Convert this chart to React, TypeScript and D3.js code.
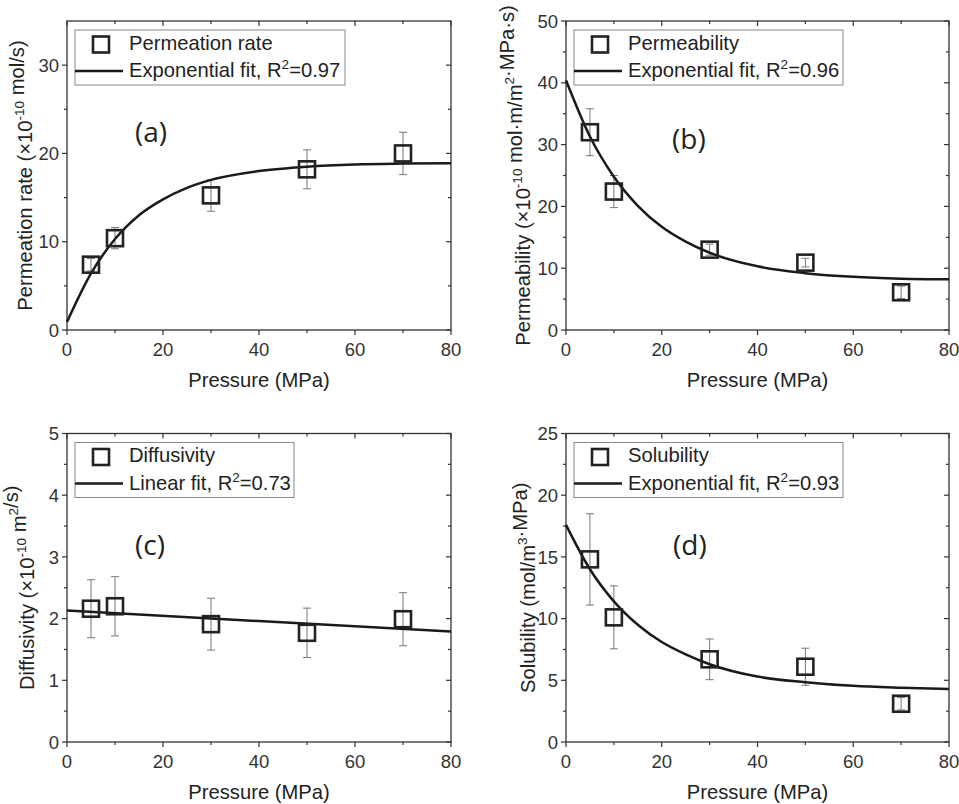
import React from "react";
import * as d3 from "d3";

const pressure = [5, 10, 30, 50, 70];

const permeationRate = [7.4, 10.4, 15.25, 18.2, 20.0];
const permeationRateErr = [0.7, 1.2, 1.8, 2.2, 2.4];

const permeability = [32.0, 22.4, 13.0, 10.9, 6.1];
const permeabilityErr = [3.8, 2.6, 0.9, 0.7, 1.0];

const diffusivity = [2.16, 2.2, 1.91, 1.77, 1.99];
const diffusivityErr = [0.47, 0.48, 0.42, 0.4, 0.43];

const solubility = [14.8, 10.1, 6.7, 6.1, 3.1];
const solubilityErr = [3.7, 2.55, 1.65, 1.5, 0.5];

// fit curves
const fitPressure = [0, 5, 10, 15, 20, 25, 30, 40, 50, 60, 70, 80];
const permeationRateFit = [0.9, 6.4, 10.3, 13.0, 14.8, 16.1, 17.0, 18.0, 18.5, 18.75, 18.85, 18.9];
const permeabilityFit = [40.4, 31.3, 24.8, 20.1, 16.7, 14.3, 12.5, 10.3, 9.2, 8.6, 8.3, 8.2];
const solubilityFit = [17.6, 14.0, 11.4, 9.5, 8.1, 7.1, 6.3, 5.3, 4.85, 4.55, 4.4, 4.3];
const linearFitPressure = [0, 80];
const diffusivityFit = [2.13, 1.79];

const xTicks = [0, 20, 40, 60, 80];

const FONT = "Arial, 'Liberation Sans', sans-serif";
const INK = "#222";
const TICK_FS = 18.5;
const LABEL_FS = 20.2;

type Panel = {
  letter: string;
  left: number;
  right: number;
  top: number;
  bottom: number;
  yMax: number;
  yStep: number;
  y: number[];
  err: number[];
  fitX: number[];
  fitY: number[];
  seriesName: string;
  fitName: string;
  r2: string;
  legendW: number;
  titleX: number;
  title: React.ReactNode;
  letterDx: number;
  letterDy: number;
};

const sup = (s: string, key: string) => [
  <tspan key={key + "a"} dy={-8} fontSize={13.5}>
    {s}
  </tspan>,
  <tspan key={key + "b"} dy={8}></tspan>,
];

const panels: Panel[] = [
  {
    letter: "(a)",
    left: 67, right: 451, top: 21, bottom: 330,
    yMax: 35, yStep: 10,
    y: permeationRate, err: permeationRateErr,
    fitX: fitPressure, fitY: permeationRateFit,
    seriesName: "Permeation rate", fitName: "Exponential fit, R", r2: "=0.97",
    legendW: 270, titleX: 32,
    title: (
      <>
        Permeation rate (×10{sup("-10", "s1")} mol/s)
      </>
    ),
    letterDx: 68, letterDy: 121,
  },
  {
    letter: "(b)",
    left: 566, right: 949, top: 21, bottom: 330,
    yMax: 50, yStep: 10,
    y: permeability, err: permeabilityErr,
    fitX: fitPressure, fitY: permeabilityFit,
    seriesName: "Permeability", fitName: "Exponential fit, R", r2: "=0.96",
    legendW: 269, titleX: 530,
    title: (
      <>
        Permeability (×10{sup("-10", "s1")} mol·m/m{sup("2", "s2")}·MPa·s)
      </>
    ),
    letterDx: 106, letterDy: 128,
  },
  {
    letter: "(c)",
    left: 67, right: 451, top: 433.5, bottom: 742,
    yMax: 5, yStep: 1,
    y: diffusivity, err: diffusivityErr,
    fitX: linearFitPressure, fitY: diffusivityFit,
    seriesName: "Diffusivity", fitName: "Linear fit, R", r2: "=0.73",
    legendW: 219, titleX: 34,
    title: (
      <>
        Diffusivity (×10{sup("-10", "s1")} m{sup("2", "s2")}/s)
      </>
    ),
    letterDx: 68, letterDy: 121.5,
  },
  {
    letter: "(d)",
    left: 566, right: 949, top: 433.5, bottom: 742,
    yMax: 25, yStep: 5,
    y: solubility, err: solubilityErr,
    fitX: fitPressure, fitY: solubilityFit,
    seriesName: "Solubility", fitName: "Exponential fit, R", r2: "=0.93",
    legendW: 269, titleX: 535,
    title: (
      <>
        Solubility (mol/m{sup("3", "s1")}·MPa)
      </>
    ),
    letterDx: 107, letterDy: 121.5,
  },
];

function Chart({ p }: { p: Panel }) {
  const x = d3.scaleLinear().domain([0, 80]).range([p.left, p.right]);
  const y = d3.scaleLinear().domain([0, p.yMax]).range([p.bottom, p.top]);

  const yMajor = d3.range(0, p.yMax + 1e-9, p.yStep);
  const yMinor = d3.range(p.yStep / 2, p.yMax + 1e-9, p.yStep).filter((v) => v < p.yMax - 1e-9);
  const xMinor = [10, 30, 50, 70];

  const line = d3
    .line<number>()
    .x((_, i) => x(p.fitX[i]))
    .y((d) => y(d))
    .curve(d3.curveMonotoneX);

  const lx = p.left + 8;
  const ly = p.top + 9;
  const midY = (p.top + p.bottom) / 2;

  return (
    <g>
      {/* frame */}
      <rect
        x={p.left}
        y={p.top}
        width={p.right - p.left}
        height={p.bottom - p.top}
        fill="none"
        stroke="#333"
        strokeWidth={1.3}
      />

      {/* x ticks */}
      {xTicks.map((t) => (
        <g key={"xt" + t}>
          <line x1={x(t)} x2={x(t)} y1={p.bottom} y2={p.bottom + 5} stroke="#333" strokeWidth={1.2} />
          <line x1={x(t)} x2={x(t)} y1={p.top} y2={p.top + 5} stroke="#333" strokeWidth={1.2} />
          <text x={x(t)} y={p.bottom + 26} textAnchor="middle" fontSize={TICK_FS} fill="#333" fontFamily={FONT}>
            {t}
          </text>
        </g>
      ))}
      {xMinor.map((t) => (
        <g key={"xm" + t}>
          <line x1={x(t)} x2={x(t)} y1={p.bottom} y2={p.bottom + 3} stroke="#333" strokeWidth={1.2} />
          <line x1={x(t)} x2={x(t)} y1={p.top} y2={p.top + 3} stroke="#333" strokeWidth={1.2} />
        </g>
      ))}

      {/* y ticks */}
      {yMajor.map((t) => (
        <g key={"yt" + t}>
          <line x1={p.left - 5} x2={p.left} y1={y(t)} y2={y(t)} stroke="#333" strokeWidth={1.2} />
          <line x1={p.right - 5} x2={p.right} y1={y(t)} y2={y(t)} stroke="#333" strokeWidth={1.2} />
          <text
            x={p.left - 8}
            y={y(t)}
            dy="0.36em"
            textAnchor="end"
            fontSize={TICK_FS}
            fill="#333"
            fontFamily={FONT}
          >
            {t}
          </text>
        </g>
      ))}
      {yMinor.map((t) => (
        <g key={"ym" + t}>
          <line x1={p.left - 3} x2={p.left} y1={y(t)} y2={y(t)} stroke="#333" strokeWidth={1.2} />
          <line x1={p.right - 3} x2={p.right} y1={y(t)} y2={y(t)} stroke="#333" strokeWidth={1.2} />
        </g>
      ))}

      {/* axis titles */}
      <text
        x={(p.left + p.right) / 2}
        y={p.bottom + 57}
        textAnchor="middle"
        fontSize={LABEL_FS}
        fill={INK}
        fontFamily={FONT}
      >
        Pressure (MPa)
      </text>
      <text
        transform={`translate(${p.titleX},${midY}) rotate(-90)`}
        textAnchor="middle"
        fontSize={LABEL_FS}
        fill={INK}
        fontFamily={FONT}
      >
        {p.title}
      </text>

      {/* error bars */}
      {pressure.map((px, i) => {
        const cx = x(px);
        const y1 = y(p.y[i] + p.err[i]);
        const y2 = y(p.y[i] - p.err[i]);
        return (
          <g key={"e" + i} stroke="#777" strokeWidth={1}>
            <line x1={cx} x2={cx} y1={y1} y2={y2} />
            <line x1={cx - 4} x2={cx + 4} y1={y1} y2={y1} />
            <line x1={cx - 4} x2={cx + 4} y1={y2} y2={y2} />
          </g>
        );
      })}

      {/* fit */}
      <path d={line(p.fitY) || ""} fill="none" stroke="#1a1a1a" strokeWidth={2.5} />

      {/* markers */}
      {pressure.map((px, i) => (
        <rect
          key={"m" + i}
          x={x(px) - 8}
          y={y(p.y[i]) - 8}
          width={16}
          height={16}
          fill="none"
          stroke="#222"
          strokeWidth={2.6}
        />
      ))}

      {/* legend */}
      <rect x={lx} y={ly} width={p.legendW} height={55} fill="white" stroke="#888" strokeWidth={1} />
      <rect x={lx + 18} y={ly + 6.5} width={16} height={16} fill="none" stroke="#222" strokeWidth={2.6} />
      <text x={lx + 54} y={ly + 19.5} fontSize={LABEL_FS} fill={INK} fontFamily={FONT}>
        {p.seriesName}
      </text>
      <line x1={lx} x2={lx + 48} y1={ly + 41} y2={ly + 41} stroke="#1a1a1a" strokeWidth={2.5} />
      <text x={lx + 54} y={ly + 47} fontSize={LABEL_FS} fill={INK} fontFamily={FONT}>
        {p.fitName}
        <tspan dy={-8} fontSize={13.5}>
          2
        </tspan>
        <tspan dy={8}>{p.r2}</tspan>
      </text>

      {/* panel letter */}
      <text
        x={p.left + p.letterDx}
        y={p.top + p.letterDy}
        fontSize={28}
        fill={INK}
        fontFamily="'Open Sans', 'Noto Sans', sans-serif"
      >
        {p.letter}
      </text>
    </g>
  );
}

export default function App() {
  return (
    <svg
      width={959}
      height={804}
      style={{ position: "absolute", left: 0, top: 0, background: "white" }}
    >
      <rect width={959} height={804} fill="white" />
      {panels.map((p) => (
        <Chart key={p.letter} p={p} />
      ))}
    </svg>
  );
}
